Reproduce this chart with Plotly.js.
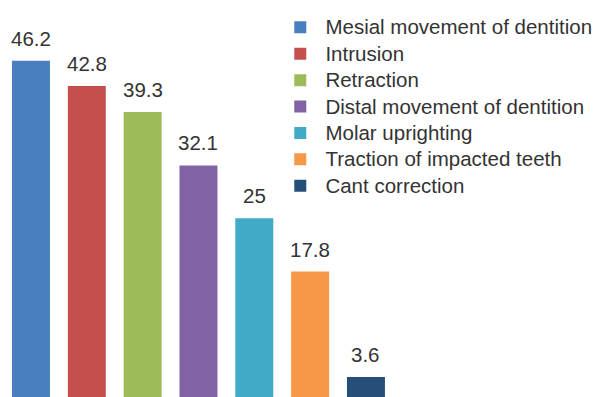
<!DOCTYPE html>
<html>
<head>
<meta charset="utf-8">
<script src="https://cdn.plot.ly/plotly-3.0.1.min.js"></script>
<style>
  html, body { margin: 0; padding: 0; background: #ffffff; }
  #chart { width: 606px; height: 397px; }
</style>
</head>
<body>
<div id="chart"></div>
<script>
// Share of cases by type of tooth movement
const categories = [
  "Mesial movement of dentition",
  "Intrusion",
  "Retraction",
  "Distal movement of dentition",
  "Molar uprighting",
  "Traction of impacted teeth",
  "Cant correction"
];
const values = [46.2, 42.8, 39.3, 32.1, 25, 17.8, 3.6];
const valueLabels = ["46.2", "42.8", "39.3", "32.1", "25", "17.8", "3.6"];
const colors = ["#4a7ebe", "#c44f4e", "#9dbb58", "#8063a3", "#41abc7", "#f79748", "#254e78"];

const fontFamily = "Liberation Sans, Arial, sans-serif";
const textColor = "#333333";

// One trace per category so each bar gets its own legend entry.
// The legend row height follows legend.font.size, the span sets the drawn size;
// a four-per-em space widens the gap between swatch and text.
const traces = categories.map((name, i) => ({
  type: "bar",
  name: '<span style="font-size:20.5px">\u2005' + name + '</span>',
  x: [i],
  y: [values[i]],
  width: 0.68,
  marker: { color: colors[i], line: { width: 0 } },
  hoverinfo: "y"
}));

// Value labels sitting above each bar
const annotations = categories.map((name, i) => ({
  x: i,
  y: values[i],
  xref: "x",
  yref: "y",
  text: valueLabels[i],
  showarrow: false,
  yanchor: "bottom",
  yshift: 9,
  font: { family: fontFamily, size: 20.5, color: textColor }
}));

const layout = {
  width: 606,
  height: 397,
  margin: { l: 0, r: 0, t: 0, b: 0, pad: 0 },
  paper_bgcolor: "#ffffff",
  plot_bgcolor: "#ffffff",
  barmode: "overlay",
  showlegend: true,
  legend: {
    x: 0.4625,
    y: 0.977,
    xanchor: "left",
    yanchor: "top",
    itemwidth: 30,
    font: { family: fontFamily, size: 18, color: textColor },
    bgcolor: "rgba(0,0,0,0)",
    tracegroupgap: 0,
    itemclick: false
  },
  xaxis: {
    range: [-0.555, 10.3],
    showgrid: false,
    zeroline: false,
    showticklabels: false,
    showline: false,
    ticks: ""
  },
  yaxis: {
    range: [0.9, 54.4],
    showgrid: false,
    zeroline: false,
    showticklabels: false,
    showline: false,
    ticks: ""
  },
  annotations: annotations
};

Plotly.newPlot("chart", traces, layout, { displayModeBar: false, staticPlot: true });
</script>
</body>
</html>
